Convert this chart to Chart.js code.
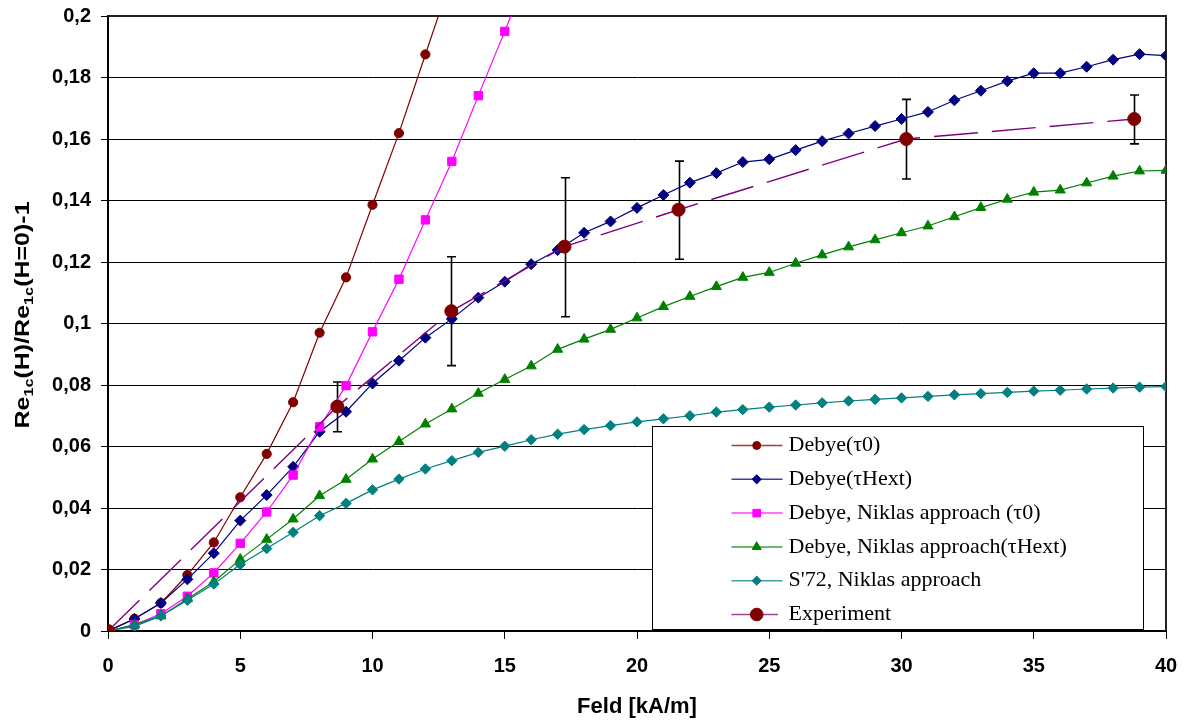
<!DOCTYPE html>
<html>
<head>
<meta charset="utf-8">
<script src="https://cdn.jsdelivr.net/npm/chart.js@4/dist/chart.umd.min.js"></script>
<style>
html,body{margin:0;padding:0;background:#fff;}
#wrap{width:1186px;height:720px;position:relative;}
</style>
</head>
<body>
<div id="wrap"><canvas id="c" width="1186" height="720"></canvas></div>
<script>
// ---- data ----
const fieldX = [0,1,2,3,4,5,6,7,8,9,10,11,12,13,14,15,16,17,18,19,20,21,22,23,24,25,26,27,28,29,30,31,32,33,34,35,36,37,38,39,40];

const debyeTau0 = [0, 0.004, 0.0091, 0.0182, 0.0288, 0.0435, 0.0576, 0.0744, 0.097, 0.115, 0.1386, 0.1619, 0.1875, 0.213];

const debyeTauHext = [0, 0.0039, 0.0091, 0.0168, 0.0253, 0.0359, 0.0442, 0.0534, 0.0648, 0.0713,
  0.0805, 0.0879, 0.0954, 0.1015, 0.1084, 0.1136, 0.1193, 0.1239, 0.1295, 0.1332,
  0.1376, 0.1418, 0.1458, 0.1489, 0.1525, 0.1534, 0.1564, 0.1593, 0.1618, 0.1642,
  0.1665, 0.1688, 0.1726, 0.1757, 0.1788, 0.1814, 0.1814, 0.1835, 0.1858, 0.1876, 0.1871];

const niklasTau0 = [0, 0.002, 0.0056, 0.0113, 0.0189, 0.0285, 0.0387, 0.0507, 0.0664, 0.0798,
  0.0973, 0.1144, 0.1337, 0.1527, 0.1741, 0.195, 0.217];

const niklasTauHext = [0, 0.002, 0.0049, 0.0104, 0.016, 0.0233, 0.0298, 0.0364, 0.044, 0.0493,
  0.0559, 0.0616, 0.0673, 0.0722, 0.0773, 0.0818, 0.0862, 0.0916, 0.0949, 0.0981,
  0.1018, 0.1055, 0.1088, 0.112, 0.115, 0.1166, 0.1196, 0.1223, 0.1249, 0.1272,
  0.1295, 0.1317, 0.1347, 0.1377, 0.1404, 0.1427, 0.1434, 0.1457, 0.1479, 0.1496, 0.1498];

const s72Niklas = [0, 0.0015, 0.0049, 0.01, 0.0153, 0.0216, 0.0268, 0.0321, 0.0375, 0.0415,
  0.0459, 0.0494, 0.0527, 0.0554, 0.0581, 0.0601, 0.0622, 0.064, 0.0655, 0.0668,
  0.068, 0.069, 0.07, 0.0712, 0.072, 0.0728, 0.0735, 0.0742, 0.0748, 0.0753,
  0.0758, 0.0763, 0.0768, 0.0772, 0.0776, 0.078, 0.0783, 0.0787, 0.079, 0.0793, 0.0795];

const expX = [0, 8.67, 12.98, 17.26, 21.57, 30.18, 38.8];
const expY = [0, 0.073, 0.104, 0.125, 0.137, 0.16, 0.1665];
const expErrHigh = [null, 0.081, 0.1217, 0.1474, 0.1528, 0.1729, 0.1743];
const expErrLow  = [null, 0.0648, 0.0863, 0.1022, 0.1209, 0.147, 0.1584];

const xTickLabels = ['0','5','10','15','20','25','30','35','40'];
const yTickLabels = ['0','0,02','0,04','0,06','0,08','0,1','0,12','0,14','0,16','0,18','0,2'];

const seriesNames = ['Debye(\u03c40)', 'Debye(\u03c4Hext)', 'Debye, Niklas approach (\u03c40)',
  'Debye, Niklas approach(\u03c4Hext)', "S'72, Niklas approach", 'Experiment'];

// ---- helpers ----
function pts(xs, ys) { return ys.map((y, i) => ({x: xs[i], y: y})); }

const SANS = "'Liberation Sans', Arial, sans-serif";
const SERIF = "'Liberation Serif', 'Times New Roman', serif";

Chart.defaults.font.family = SANS;

const datasets = [
  {label: seriesNames[0], data: pts(fieldX, debyeTau0), borderColor: '#800000', backgroundColor: '#800000',
   pointStyle: 'circle', pointRadius: 4.6, borderWidth: 1.2, order: 6, legendRadius: 4},
  {label: seriesNames[1], data: pts(fieldX, debyeTauHext), borderColor: '#000080', backgroundColor: '#000080',
   pointStyle: 'rectRot', pointRadius: 5.5, borderWidth: 1.2, order: 5, legendRadius: 4.6},
  {label: seriesNames[2], data: pts(fieldX, niklasTau0), borderColor: '#FF00FF', backgroundColor: '#FF00FF',
   pointStyle: 'rect', pointRadius: 5.9, borderWidth: 1.2, order: 4, legendRadius: 5.4},
  {label: seriesNames[3], data: pts(fieldX, niklasTauHext), borderColor: '#008000', backgroundColor: '#008000',
   pointStyle: 'triangle', pointRadius: 5.8, borderWidth: 1.2, order: 3, legendRadius: 5.2},
  {label: seriesNames[4], data: pts(fieldX, s72Niklas), borderColor: '#008080', backgroundColor: '#008080',
   pointStyle: 'rectRot', pointRadius: 5.2, borderWidth: 1.2, order: 2, legendRadius: 4.6},
  {label: seriesNames[5], data: pts(expX, expY), borderColor: '#800080', backgroundColor: '#800000',
   pointBackgroundColor: '#800000', pointBorderColor: '#800000',
   pointStyle: 'circle', pointRadius: 6.5, borderWidth: 1.4, borderDash: [44, 14], order: 1, legendRadius: 6.3}
];
datasets.forEach(d => {
  if (!d.pointBackgroundColor) d.pointBackgroundColor = d.backgroundColor;
  if (!d.pointBorderColor) d.pointBorderColor = d.backgroundColor;
  d.pointBorderWidth = 1;
  d.pointHoverRadius = d.pointRadius;
  d.tension = 0;
  d.fill = false;
});

// ---- plugins ----
const errorBars = {
  id: 'errorBars',
  beforeDatasetsDraw(chart) {
    const {ctx, scales: {x, y}} = chart;
    ctx.save();
    ctx.strokeStyle = '#000';
    ctx.lineWidth = 1.6;
    for (let i = 0; i < expX.length; i++) {
      if (expErrHigh[i] == null) continue;
      const px = Math.round(x.getPixelForValue(expX[i])) + 0.5;
      const t = y.getPixelForValue(expErrHigh[i]);
      const b = y.getPixelForValue(expErrLow[i]);
      ctx.beginPath();
      ctx.moveTo(px, t); ctx.lineTo(px, b);
      ctx.moveTo(px - 4.5, t); ctx.lineTo(px + 4.5, t);
      ctx.moveTo(px - 4.5, b); ctx.lineTo(px + 4.5, b);
      ctx.stroke();
    }
    ctx.restore();
  }
};

const frame = {
  id: 'frame',
  beforeDatasetsDraw(chart) {
    const {ctx, chartArea: a} = chart;
    ctx.save();
    ctx.strokeStyle = '#222';
    ctx.lineWidth = 2;
    ctx.beginPath();
    ctx.moveTo(a.left, a.top);
    ctx.lineTo(a.right, a.top);
    ctx.lineTo(a.right, a.bottom);
    ctx.stroke();
    ctx.restore();
  }
};

const yTitle = {
  id: 'yTitle',
  afterDraw(chart) {
    const ctx = chart.ctx;
    const parts = [['Re', 0], ['1c', 1], ['(H)/Re', 0], ['1c', 1], ['(H=0)-1', 0]];
    const mainFont = 'bold 20px ' + SANS;
    const subFont = 'bold 13px ' + SANS;
    ctx.save();
    let total = 0;
    parts.forEach(p => { ctx.font = p[1] ? subFont : mainFont; total += ctx.measureText(p[0]).width; });
    ctx.translate(29, 315);
    ctx.rotate(-Math.PI / 2);
    ctx.scale(1.25, 1);
    ctx.fillStyle = '#000';
    ctx.textBaseline = 'alphabetic';
    ctx.textAlign = 'left';
    let cx = -total / 2;
    parts.forEach(p => {
      ctx.font = p[1] ? subFont : mainFont;
      ctx.fillText(p[0], cx, p[1] ? 4 : 0);
      cx += ctx.measureText(p[0]).width;
    });
    ctx.restore();
  }
};

const boxLegend = {
  id: 'boxLegend',
  afterDraw(chart) {
    const ctx = chart.ctx;
    const left = 652.5, top = 426.5, w = 491, h = 203;
    ctx.save();
    ctx.fillStyle = '#fff';
    ctx.strokeStyle = '#000';
    ctx.lineWidth = 1;
    ctx.fillRect(left, top, w, h);
    ctx.strokeRect(left, top, w, h);
    const lx0 = 731.5, lx1 = 782.5, mx = 756.7, tx = 788.5;
    datasets.forEach((d, i) => {
      const cy = top + 19 + i * 33.8;
      ctx.save();
      ctx.globalAlpha = 0.75;
      ctx.strokeStyle = d.borderColor;
      ctx.lineWidth = 1.5;
      ctx.beginPath();
      ctx.moveTo(lx0, cy); ctx.lineTo(i === 5 ? 778 : lx1, cy);
      ctx.stroke();
      ctx.restore();
      ctx.fillStyle = d.pointBackgroundColor;
      ctx.strokeStyle = d.pointBorderColor;
      ctx.lineWidth = 1;
      Chart.helpers.drawPoint(ctx, {pointStyle: d.pointStyle, radius: d.legendRadius, rotation: 0, borderWidth: 1}, mx, cy);
      ctx.fillStyle = '#000';
      ctx.font = '22px ' + SERIF;
      ctx.textBaseline = 'middle';
      ctx.textAlign = 'left';
      ctx.fillText(d.label, tx, cy);
    });
    ctx.restore();
  }
};

new Chart(document.getElementById('c'), {
  type: 'line',
  data: {datasets: datasets},
  options: {
    responsive: false,
    animation: false,
    devicePixelRatio: 1,
    layout: {padding: {top: 16, right: 20, left: 0, bottom: 0}},
    plugins: {legend: {display: false}, tooltip: {enabled: false}},
    scales: {
      x: {
        type: 'linear', min: 0, max: 40,
        afterFit(s) { s.height = 89; s.paddingLeft = 0; s.paddingRight = 0; },
        ticks: {
          stepSize: 5, color: '#000', padding: 15,
          font: {family: SANS, weight: 'bold', size: 20},
          callback: (v) => { const k = Math.round(v / 5); return (Math.abs(v - k * 5) < 1e-6) ? xTickLabels[k] : ''; }
        },
        grid: {display: true, drawOnChartArea: false, drawTicks: true, tickLength: 8, tickColor: '#000', tickWidth: 1},
        border: {display: true, color: '#000', width: 2},
        title: {display: true, text: 'Feld [kA/m]', color: '#000',
          font: {family: SANS, weight: 'bold', size: 22}, padding: {top: 0, bottom: 0}}
      },
      y: {
        type: 'linear', min: 0, max: 0.2,
        afterFit(s) { s.width = 108; s.paddingTop = 0; s.paddingBottom = 0; },
        ticks: {
          stepSize: 0.02, color: '#000', padding: 10,
          font: {family: SANS, weight: 'bold', size: 20},
          callback: (v) => { const k = Math.round(v / 0.02); return yTickLabels[k] !== undefined ? yTickLabels[k] : ''; }
        },
        grid: {display: true, color: '#000', lineWidth: 1, drawTicks: true, tickLength: 7, tickColor: '#000'},
        border: {display: true, color: '#000', width: 2}
      }
    }
  },
  plugins: [frame, errorBars, yTitle, boxLegend]
});
</script>
</body>
</html>
